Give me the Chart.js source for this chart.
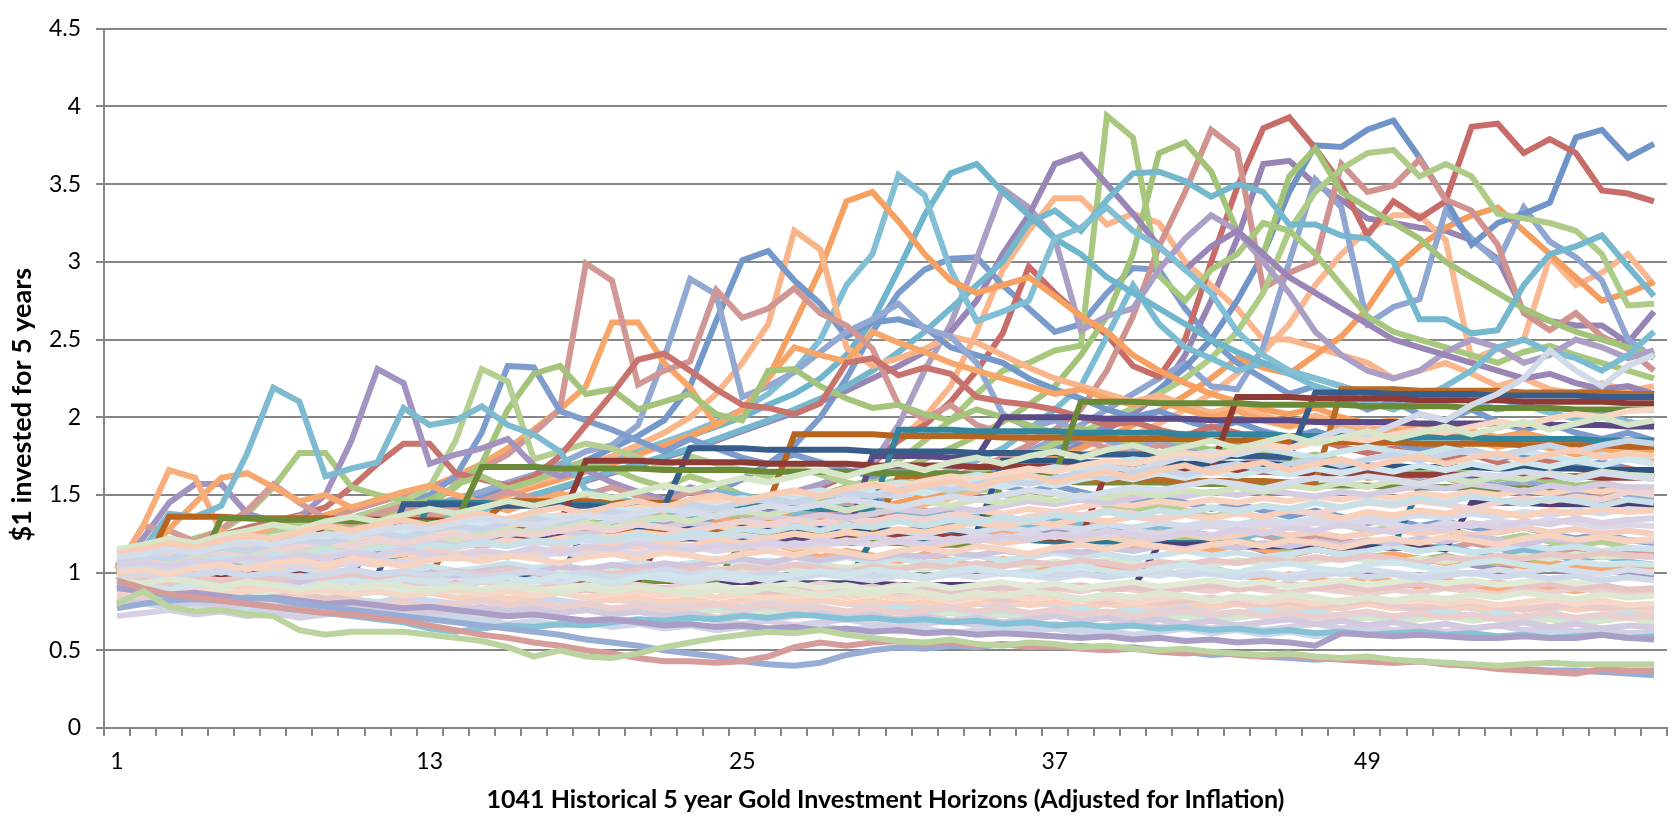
<!DOCTYPE html>
<html>
<head>
<meta charset="utf-8">
<script src="https://cdn.jsdelivr.net/npm/chart.js@4.4.0/dist/chart.umd.min.js"></script>
<style>
  body { margin: 0; background: #fff; }
</style>
</head>
<body>
<canvas id="goldChart" width="1674" height="819"></canvas>
<script>
// month of the 5 year horizon (1..60)
const months = [1,2,3,4,5,6,7,8,9,10,11,12,13,14,15,16,17,18,19,20,
  21,22,23,24,25,26,27,28,29,30,31,32,33,34,35,36,37,38,39,40,
  41,42,43,44,45,46,47,48,49,50,51,52,53,54,55,56,57,58,59,60];
const tickLabels = ['1', '13', '25', '37', '49'];
const yTicks = [0, 0.5, 1, 1.5, 2, 2.5, 3, 3.5, 4, 4.5];

// horizons that spike well above the pack
const peakSeries = [
  [1.05,1.15,1.38,1.36,1.43,1.77,2.19,2.10,1.62,1.67,
   1.71,2.06,1.95,1.98,2.07,1.95,1.89,1.78,1.53,1.48,
   1.45,1.40,1.43,1.52,1.50,1.46,1.38,1.42,1.47,1.44,
   1.40,1.36,1.41,1.38,1.33,1.30,1.35,1.32,1.28,1.25,
   1.30,1.27,1.24,1.21,1.26,1.22,1.18,1.15,1.20,1.17,
   1.14,1.18,1.13,1.10,1.15,1.12,1.08,1.11,1.07,1.05],
  [1.03,1.30,1.66,1.61,1.26,1.22,1.30,1.36,1.31,1.27,
   1.33,1.38,1.30,1.25,1.29,1.34,1.28,1.22,1.26,1.30,
   1.24,1.19,1.23,1.18,1.14,1.19,1.15,1.10,1.14,1.11,
   1.07,1.12,1.08,1.04,1.09,1.05,1.01,1.06,1.03,0.99,
   1.02,0.98,1.03,0.99,0.95,0.99,0.96,0.93,0.97,0.94,
   0.91,0.95,0.92,0.89,0.93,0.90,0.88,0.91,0.88,0.86],
  [1.00,1.10,1.28,1.45,1.61,1.64,1.55,1.46,1.50,1.42,
   1.47,1.52,1.56,1.50,1.45,1.40,1.46,1.51,1.47,1.42,
   1.38,1.44,1.40,1.36,1.32,1.37,1.33,1.29,1.34,1.30,
   1.26,1.30,1.27,1.23,1.27,1.24,1.20,1.24,1.21,1.17,
   1.21,1.18,1.14,1.18,1.15,1.11,1.15,1.12,1.09,1.12,
   1.09,1.06,1.10,1.07,1.04,1.07,1.04,1.01,1.04,1.02],
  [1.02,1.30,1.27,1.20,1.28,1.40,1.57,1.45,1.35,1.32,
   1.38,1.43,1.37,1.42,1.46,1.52,1.48,1.44,1.50,1.55,
   1.49,1.45,1.52,1.48,1.43,1.47,1.42,1.38,1.43,1.39,
   1.35,1.40,1.36,1.32,1.36,1.33,1.29,1.33,1.30,1.26,
   1.30,1.27,1.23,1.27,1.24,1.20,1.24,1.21,1.18,1.21,
   1.18,1.15,1.19,1.16,1.13,1.16,1.13,1.10,1.13,1.11],
  [1.04,1.22,1.45,1.57,1.57,1.38,1.33,1.36,1.50,1.85,
   2.31,2.22,1.70,1.76,1.80,1.86,1.69,1.62,1.66,1.58,
   1.52,1.47,1.55,1.50,1.44,1.40,1.47,1.42,1.37,1.34,
   1.39,1.35,1.30,1.33,1.28,1.24,1.29,1.25,1.21,1.18,
   1.22,1.18,1.15,1.19,1.14,1.11,1.15,1.12,1.08,1.10,
   1.06,1.09,1.05,1.02,1.06,1.03,1.00,1.03,0.99,0.97],
  [0.95,1.08,1.15,1.22,1.27,1.38,1.55,1.77,1.77,1.55,
   1.50,1.47,1.42,1.57,1.62,1.54,1.59,1.66,1.72,1.67,
   1.60,1.55,1.62,1.57,1.50,1.46,1.52,1.47,1.42,1.38,
   1.43,1.39,1.34,1.37,1.32,1.28,1.33,1.29,1.25,1.22,
   1.26,1.22,1.18,1.22,1.17,1.14,1.18,1.14,1.10,1.12,
   1.08,1.11,1.07,1.04,1.08,1.05,1.02,1.05,1.01,0.99],
  [1.00,1.07,1.14,1.19,1.24,1.29,1.33,1.37,1.42,1.55,
   1.70,1.83,1.83,1.64,1.60,1.56,1.62,1.75,1.95,2.15,
   2.37,2.41,2.30,2.18,2.08,2.06,2.02,2.09,2.35,2.38,
   2.27,2.32,2.28,2.13,2.10,2.08,2.05,2.00,1.95,1.97,
   1.92,1.88,1.94,1.90,1.85,1.82,1.86,1.81,1.77,1.80,
   1.75,1.72,1.76,1.71,1.68,1.72,1.67,1.64,1.67,1.62],
  [1.00,1.06,1.12,1.17,1.14,1.20,1.26,1.31,1.28,1.35,
   1.40,1.46,1.55,1.85,2.31,2.23,1.73,1.78,1.83,1.80,
   1.74,1.68,1.75,1.70,1.66,1.62,1.68,1.63,1.58,1.55,
   1.60,1.56,1.52,1.55,1.50,1.47,1.51,1.47,1.43,1.40,
   1.44,1.40,1.36,1.39,1.35,1.31,1.35,1.31,1.27,1.29,
   1.25,1.28,1.24,1.21,1.24,1.20,1.17,1.20,1.16,1.14],
  [0.98,1.04,1.10,1.15,1.19,1.16,1.22,1.27,1.25,1.31,
   1.36,1.42,1.47,1.55,1.70,2.05,2.28,2.33,2.15,2.18,
   2.05,2.10,2.15,2.02,1.98,2.30,2.31,2.20,2.12,2.06,
   2.08,2.02,1.98,2.05,2.00,1.95,1.90,1.93,1.88,1.84,
   1.88,1.83,1.79,1.82,1.77,1.73,1.76,1.72,1.68,1.70,
   1.66,1.69,1.64,1.60,1.63,1.59,1.56,1.58,1.54,1.52],
  [1.00,1.05,1.09,1.14,1.18,1.22,1.19,1.25,1.30,1.35,
   1.40,1.45,1.50,1.62,1.90,2.33,2.32,2.04,1.98,1.92,
   1.85,1.78,1.86,1.80,1.74,1.70,1.76,1.71,1.66,1.62,
   1.67,1.63,1.58,1.61,1.56,1.52,1.56,1.52,1.48,1.45,
   1.49,1.45,1.41,1.44,1.40,1.36,1.40,1.36,1.32,1.34,
   1.30,1.33,1.29,1.26,1.29,1.25,1.22,1.25,1.21,1.19],
  [1.02,1.08,1.12,1.18,1.22,1.27,1.30,1.35,1.33,1.40,
   1.45,1.50,1.55,1.60,1.67,1.76,1.90,2.05,2.99,2.88,
   2.21,2.30,2.36,2.82,2.64,2.70,2.83,2.67,2.59,2.44,
   2.08,1.99,2.08,1.95,1.90,1.85,1.92,1.86,1.80,1.76,
   1.82,1.77,1.72,1.76,1.70,1.66,1.70,1.65,1.61,1.63,
   1.58,1.61,1.56,1.52,1.55,1.50,1.47,1.49,1.45,1.43],
  [0.98,1.04,1.10,1.14,1.18,1.24,1.28,1.33,1.37,1.42,
   1.46,1.50,1.55,1.62,1.70,1.80,1.92,2.05,2.20,2.61,
   2.61,2.35,2.19,1.95,2.05,2.25,2.45,2.40,2.36,2.55,
   2.48,2.42,2.35,2.30,2.25,2.20,2.15,2.18,2.12,2.08,
   2.10,2.05,2.00,2.04,1.98,1.94,1.98,1.93,1.89,1.92,
   1.87,1.90,1.85,1.81,1.84,1.80,1.76,1.79,1.75,1.72],
  [1.00,1.04,1.08,1.12,1.10,1.16,1.20,1.24,1.22,1.28,
   1.33,1.38,1.42,1.48,1.52,1.58,1.63,1.70,1.78,1.82,
   1.95,2.38,2.89,2.79,2.13,2.20,2.29,2.42,2.55,2.63,
   2.73,2.57,2.52,2.35,2.02,1.93,1.98,1.90,1.85,1.80,
   1.86,1.80,1.75,1.79,1.73,1.69,1.73,1.68,1.64,1.66,
   1.62,1.65,1.60,1.56,1.59,1.55,1.51,1.54,1.50,1.48],
  [1.00,1.03,1.07,1.11,1.15,1.13,1.19,1.23,1.27,1.25,
   1.31,1.36,1.40,1.45,1.50,1.55,1.60,1.66,1.72,1.80,
   1.88,1.98,2.20,2.62,3.01,3.07,2.88,2.73,2.52,2.61,
   2.63,2.58,2.45,2.40,2.35,2.25,2.18,2.12,2.05,2.00,
   2.04,1.98,1.93,1.97,1.91,1.87,1.91,1.86,1.82,1.84,
   1.79,1.82,1.77,1.73,1.76,1.72,1.68,1.71,1.67,1.64],
  [1.00,1.04,1.07,1.11,1.15,1.19,1.17,1.22,1.26,1.30,
   1.28,1.34,1.38,1.43,1.48,1.53,1.58,1.63,1.69,1.75,
   1.82,1.90,2.00,2.15,2.35,2.60,3.20,3.08,2.45,2.33,
   2.38,2.44,2.52,2.48,2.40,2.32,2.25,2.20,2.15,2.10,
   2.14,2.08,2.03,2.07,2.01,1.97,2.01,1.96,1.92,1.94,
   1.89,1.92,1.87,1.83,1.86,1.82,1.78,1.81,1.77,1.74],
  [1.00,1.03,1.06,1.10,1.14,1.12,1.17,1.21,1.25,1.29,
   1.27,1.32,1.36,1.40,1.45,1.50,1.55,1.60,1.65,1.70,
   1.76,1.82,1.88,1.95,2.05,2.25,2.60,2.95,3.39,3.45,
   3.26,3.05,2.88,2.80,2.85,2.90,2.78,2.65,2.55,2.40,
   2.30,2.22,2.15,2.10,2.05,2.02,2.06,2.00,1.96,1.98,
   1.93,1.96,1.91,1.87,1.90,1.86,1.82,1.85,1.81,1.78],
  [1.00,1.03,1.06,1.10,1.08,1.13,1.17,1.21,1.25,1.23,
   1.28,1.32,1.36,1.41,1.46,1.51,1.56,1.61,1.66,1.72,
   1.78,1.84,1.90,1.97,2.05,2.15,2.30,2.50,2.85,3.05,
   3.56,3.43,2.95,2.62,2.68,2.75,3.15,3.22,3.35,3.20,
   3.10,2.95,2.80,2.55,2.40,2.30,2.25,2.20,2.15,2.18,
   2.12,2.15,2.10,2.05,2.08,2.03,1.99,2.02,1.97,1.94],
  [1.00,1.03,1.07,1.05,1.10,1.14,1.18,1.16,1.21,1.25,
   1.29,1.33,1.38,1.43,1.48,1.52,1.57,1.62,1.67,1.72,
   1.77,1.82,1.88,1.94,2.00,2.08,2.15,2.25,2.40,2.62,
   2.95,3.30,3.57,3.63,3.45,3.30,3.15,3.05,2.90,2.80,
   2.70,2.60,2.50,2.42,2.35,2.30,2.25,2.20,2.15,2.18,
   2.12,2.15,2.10,2.05,2.08,2.03,1.99,2.02,1.97,1.94],
  [1.00,1.02,1.05,1.08,1.06,1.10,1.14,1.18,1.15,1.20,
   1.24,1.28,1.32,1.36,1.40,1.45,1.50,1.55,1.60,1.65,
   1.70,1.75,1.80,1.86,1.92,1.98,2.05,2.12,2.20,2.30,
   2.42,2.55,2.70,2.85,3.00,3.25,3.33,3.20,3.40,3.57,
   3.58,3.52,3.42,3.50,3.45,3.24,3.24,3.17,3.15,3.00,
   2.63,2.63,2.54,2.56,2.85,3.05,3.10,3.17,2.97,2.78],
  [1.00,1.03,1.01,1.05,1.08,1.06,1.10,1.13,1.11,1.15,
   1.18,1.16,1.20,1.23,1.21,1.25,1.28,1.26,1.30,1.33,
   1.31,1.35,1.38,1.36,1.40,1.43,1.41,1.45,1.48,1.50,
   1.55,1.60,1.66,1.72,1.80,1.92,2.05,2.20,2.52,2.85,
   2.60,2.45,2.38,2.30,2.35,2.28,2.20,2.15,2.10,2.05,
   2.12,2.20,2.30,2.45,2.50,2.42,2.38,2.30,2.40,2.55],
  [1.00,1.03,1.06,1.04,1.08,1.12,1.15,1.13,1.18,1.22,
   1.25,1.29,1.33,1.37,1.41,1.45,1.50,1.54,1.59,1.64,
   1.69,1.74,1.79,1.85,1.91,1.97,2.03,2.10,2.17,2.25,
   2.33,2.42,2.55,2.75,3.05,3.30,3.63,3.69,3.50,3.31,
   3.10,2.95,3.10,3.20,3.05,2.90,2.80,2.70,2.60,2.50,
   2.45,2.40,2.35,2.30,2.25,2.28,2.22,2.18,2.20,2.15],
  [1.00,1.02,1.05,1.03,1.07,1.10,1.08,1.12,1.15,1.13,
   1.17,1.20,1.18,1.22,1.25,1.23,1.27,1.30,1.28,1.32,
   1.35,1.33,1.37,1.40,1.44,1.48,1.52,1.57,1.63,1.70,
   1.95,2.30,2.60,3.02,3.47,3.35,3.15,2.56,2.65,2.70,
   2.95,3.15,3.30,3.20,3.00,2.80,2.55,2.40,2.30,2.25,
   2.30,2.42,2.50,2.45,2.35,2.40,2.50,2.45,2.38,2.43],
  [1.00,1.02,1.05,1.08,1.06,1.10,1.13,1.11,1.15,1.18,
   1.16,1.20,1.23,1.21,1.25,1.28,1.26,1.30,1.33,1.31,
   1.35,1.38,1.36,1.40,1.43,1.41,1.45,1.49,1.54,1.60,
   1.72,1.85,1.98,2.15,2.30,2.35,2.43,2.46,3.94,3.80,
   2.91,2.75,2.95,3.05,3.25,3.20,3.05,2.85,2.65,2.55,
   2.50,2.45,2.40,2.35,2.42,2.46,2.40,2.35,2.30,2.25],
  [1.00,1.03,1.01,1.05,1.08,1.06,1.10,1.13,1.11,1.15,
   1.18,1.16,1.20,1.23,1.21,1.25,1.28,1.26,1.30,1.33,
   1.31,1.35,1.38,1.36,1.40,1.43,1.46,1.50,1.55,1.60,
   1.66,1.73,1.80,1.88,1.97,2.08,2.20,2.40,2.65,3.05,
   3.70,3.77,3.58,3.20,3.05,3.55,3.73,3.45,3.35,3.25,
   3.15,3.00,2.90,2.80,2.70,2.62,2.55,2.50,2.45,2.40],
  [1.00,1.02,1.04,1.03,1.06,1.09,1.07,1.11,1.14,1.12,
   1.16,1.19,1.17,1.21,1.24,1.22,1.26,1.29,1.27,1.31,
   1.34,1.32,1.36,1.39,1.37,1.41,1.44,1.42,1.46,1.49,
   1.52,1.56,1.60,1.65,1.70,1.76,1.83,1.90,1.98,2.06,
   2.15,2.25,2.38,2.55,2.80,3.20,3.45,3.60,3.70,3.72,
   3.55,3.63,3.55,3.31,3.28,3.25,3.20,3.05,2.72,2.73],
  [1.00,1.02,1.05,1.03,1.06,1.09,1.07,1.10,1.13,1.11,
   1.15,1.18,1.16,1.20,1.23,1.21,1.25,1.28,1.26,1.30,
   1.33,1.31,1.35,1.38,1.36,1.40,1.43,1.41,1.45,1.48,
   1.52,1.56,1.61,1.67,1.74,1.82,1.92,2.05,2.30,2.65,
   3.10,3.45,3.85,3.72,2.83,2.93,3.00,3.63,3.45,3.49,
   3.66,3.40,3.33,3.11,2.67,2.56,2.67,2.52,2.44,2.30],
  [1.00,1.03,1.01,1.04,1.07,1.05,1.08,1.11,1.09,1.12,
   1.15,1.13,1.17,1.20,1.18,1.22,1.25,1.23,1.27,1.30,
   1.28,1.32,1.35,1.38,1.42,1.46,1.50,1.55,1.62,1.70,
   1.85,1.95,2.10,2.30,2.54,2.97,2.80,2.65,2.53,2.33,
   2.26,2.50,3.00,3.48,3.86,3.93,3.73,3.50,3.17,3.39,
   3.28,3.39,3.87,3.89,3.70,3.79,3.70,3.46,3.44,3.39],
  [1.00,1.02,1.04,1.02,1.05,1.08,1.06,1.09,1.12,1.10,
   1.13,1.16,1.14,1.18,1.21,1.19,1.23,1.26,1.24,1.28,
   1.31,1.29,1.33,1.36,1.34,1.38,1.41,1.39,1.43,1.46,
   1.50,1.54,1.58,1.63,1.68,1.74,1.80,1.87,1.95,2.05,
   2.18,2.32,2.50,2.75,3.05,3.45,3.75,3.74,3.85,3.91,
   3.67,3.40,3.11,3.25,3.31,3.38,3.80,3.85,3.67,3.76],
  [1.00,1.03,1.01,1.04,1.07,1.05,1.08,1.11,1.09,1.13,
   1.16,1.14,1.18,1.21,1.19,1.23,1.26,1.24,1.28,1.31,
   1.35,1.40,1.46,1.52,1.60,1.70,1.82,2.00,2.25,2.55,
   2.80,2.95,3.02,3.03,2.85,2.70,2.55,2.60,2.80,2.96,
   2.95,2.70,2.50,2.35,2.25,2.15,2.20,2.12,2.05,2.10,
   2.02,1.98,2.05,1.97,1.92,1.96,1.90,1.86,1.90,1.85],
  [1.00,1.02,1.05,1.03,1.06,1.09,1.07,1.10,1.13,1.11,
   1.14,1.17,1.15,1.19,1.22,1.20,1.24,1.27,1.25,1.29,
   1.32,1.30,1.34,1.37,1.35,1.39,1.42,1.40,1.44,1.47,
   1.51,1.55,1.60,1.65,1.71,1.78,1.86,1.95,2.05,2.15,
   2.25,2.35,2.20,2.18,2.45,3.00,3.53,3.35,2.60,2.71,
   2.76,3.33,3.15,3.00,3.35,3.13,3.03,2.88,2.50,2.38],
  [1.00,1.02,1.04,1.03,1.06,1.08,1.07,1.10,1.12,1.11,
   1.14,1.17,1.15,1.18,1.21,1.19,1.22,1.25,1.23,1.26,
   1.29,1.27,1.30,1.33,1.31,1.34,1.37,1.35,1.38,1.41,
   1.45,1.49,1.53,1.58,1.63,1.68,1.74,1.80,1.87,1.95,
   2.04,2.14,2.25,2.38,2.32,2.28,2.40,2.52,2.70,2.95,
   3.10,3.22,3.30,3.35,3.20,3.05,2.90,2.75,2.80,2.87],
  [1.00,1.03,1.01,1.04,1.06,1.05,1.08,1.10,1.09,1.12,
   1.14,1.13,1.16,1.19,1.17,1.20,1.23,1.21,1.24,1.27,
   1.25,1.28,1.31,1.29,1.32,1.35,1.33,1.36,1.39,1.37,
   1.40,1.44,1.48,1.52,1.57,1.62,1.68,1.74,1.81,1.88,
   1.96,2.05,2.15,2.28,2.42,2.60,2.85,3.05,3.20,3.30,
   3.30,3.14,2.37,2.44,2.50,3.03,2.85,2.93,3.05,2.85],
  [1.00,1.02,1.05,1.03,1.06,1.09,1.07,1.10,1.13,1.11,
   1.14,1.17,1.15,1.18,1.21,1.19,1.23,1.26,1.24,1.28,
   1.31,1.29,1.33,1.36,1.40,1.45,1.50,1.56,1.63,1.72,
   1.85,2.00,2.20,2.55,2.95,3.20,3.41,3.41,3.24,3.31,
   3.25,3.00,2.85,2.70,2.50,2.50,2.45,2.40,2.35,2.25,
   2.30,2.35,2.28,2.20,2.25,2.18,2.15,2.22,2.17,2.20],
  [1.00,1.02,1.04,1.03,1.06,1.08,1.07,1.10,1.12,1.11,
   1.14,1.17,1.15,1.18,1.21,1.19,1.22,1.25,1.23,1.26,
   1.29,1.27,1.30,1.33,1.31,1.34,1.37,1.35,1.38,1.41,
   1.44,1.48,1.52,1.57,1.62,1.68,1.75,1.83,1.92,2.02,
   2.15,2.40,2.75,3.15,3.63,3.65,3.50,3.40,3.28,3.25,
   3.22,3.20,3.14,3.02,2.68,2.62,2.59,2.59,2.48,2.68]
];
const peakColors = ['#7EBBD1','#F8AD7D','#F7A870','#D39B98','#A393C0','#ABC882','#C9736F','#B5CF92',
  '#A5C47B','#7E9DCC','#D09794','#F7A66A','#92A9D3','#7598CA','#F9B58A','#F6A062','#82BFD4',
  '#6FB5CC','#75B8CE','#7CBCD2','#9985B6','#AC9FC5','#A8C87E','#A3C379','#AECB87','#D09390',
  '#C76C69','#7094C8','#7A9BCC','#8EA6D1','#F59D5E','#F9B892','#FAB58B','#9784B5'];

// horizons from the fixed price years: flat runs with jumps
const stepSeries = [
  [1.00,1.00,0.99,0.99,1.35,1.35,1.34,1.34,1.34,1.33,
   1.33,1.33,1.32,1.32,1.68,1.68,1.68,1.67,1.67,1.67,
   1.67,1.66,1.66,1.66,1.66,1.65,1.65,1.65,1.65,1.64,
   1.64,1.64,1.64,1.63,1.63,1.63,1.63,2.10,2.10,2.10,
   2.09,2.09,2.09,2.09,2.08,2.08,2.08,2.08,2.07,2.07,
   2.07,2.07,2.06,2.06,2.06,2.06,2.05,2.05,2.05,2.05],
  [1.00,1.00,1.00,0.99,0.99,0.99,0.99,0.98,1.34,1.34,
   1.34,1.33,1.33,1.33,1.33,1.32,1.32,1.32,1.72,1.72,
   1.72,1.71,1.71,1.71,1.71,1.70,1.70,1.70,1.70,1.69,
   1.69,1.69,1.69,1.68,1.68,1.68,1.68,1.67,1.67,1.67,
   1.67,1.66,1.66,2.13,2.13,2.13,2.12,2.12,2.12,2.12,
   2.11,2.11,2.11,2.11,2.10,2.10,2.10,2.10,2.09,2.09],
  [1.00,1.00,1.00,1.00,0.99,0.99,0.99,0.99,0.98,0.98,
   0.98,1.44,1.44,1.44,1.43,1.43,1.43,1.43,1.43,1.42,
   1.42,1.42,1.80,1.80,1.80,1.79,1.79,1.79,1.79,1.78,
   1.78,1.78,1.78,1.77,1.77,1.77,1.77,1.76,1.76,1.76,
   1.76,1.75,1.75,1.75,1.75,1.74,2.16,2.16,2.16,2.15,
   2.15,2.15,2.15,2.14,2.14,2.14,2.14,2.13,2.13,2.13],
  [1.00,1.00,1.00,0.99,0.99,0.99,0.99,1.10,1.10,1.10,
   1.09,1.09,1.45,1.45,1.45,1.44,1.44,1.44,1.44,1.43,
   1.43,1.43,1.43,1.42,1.42,1.42,1.42,1.41,1.41,1.41,
   1.92,1.92,1.92,1.91,1.91,1.91,1.91,1.90,1.90,1.90,
   1.90,1.89,1.89,1.89,1.89,1.88,1.88,1.88,1.88,1.87,
   1.87,1.87,1.87,1.86,1.86,1.86,1.86,1.85,1.85,1.85],
  [1.00,1.02,1.36,1.36,1.36,1.35,1.35,1.35,1.35,1.34,
   1.34,1.34,1.34,1.33,1.33,1.46,1.46,1.46,1.46,1.45,
   1.45,1.45,1.45,1.44,1.44,1.44,1.89,1.89,1.89,1.89,
   1.88,1.88,1.88,1.88,1.87,1.87,1.87,1.87,1.86,1.86,
   1.86,1.86,1.85,1.85,1.85,1.85,1.84,1.84,1.84,1.84,
   1.83,1.83,1.83,1.83,1.82,1.82,1.82,1.82,1.81,1.81],
  [1.00,1.00,0.99,0.99,0.99,0.99,0.98,0.98,0.98,0.98,
   1.25,1.25,1.25,1.24,1.24,1.24,1.24,1.23,1.23,1.23,
   1.23,1.22,1.22,1.22,1.22,1.21,1.21,1.21,1.21,1.75,
   1.75,1.75,1.74,1.74,2.00,2.00,2.00,2.00,1.99,1.99,
   1.99,1.99,1.98,1.98,1.98,1.98,1.97,1.97,1.97,1.97,
   1.96,1.96,1.96,1.96,1.95,1.95,1.95,1.95,1.94,1.94],
  [1.00,1.00,1.00,0.99,0.99,0.99,0.99,0.98,0.98,0.98,
   0.98,0.97,0.97,1.28,1.28,1.28,1.27,1.27,1.27,1.27,
   1.26,1.26,1.26,1.26,1.25,1.25,1.25,1.25,1.24,1.24,
   1.62,1.62,1.62,1.61,1.61,1.61,1.61,1.60,1.60,1.60,
   1.60,1.59,1.59,1.59,1.59,1.58,1.58,2.18,2.18,2.18,
   2.17,2.17,2.17,2.17,2.16,2.16,2.16,2.16,2.15,2.15],
  [1.00,0.99,0.99,0.99,0.99,0.98,0.98,0.98,0.98,0.97,
   0.97,0.97,0.97,0.96,0.96,0.96,0.96,0.95,1.30,1.30,
   1.30,1.29,1.29,1.29,1.29,1.28,1.28,1.28,1.28,1.27,
   1.27,1.27,1.27,1.26,1.72,1.72,1.72,1.71,1.71,1.71,
   1.71,1.70,1.70,1.70,1.70,1.69,1.69,1.69,1.69,1.68,
   1.68,1.68,1.68,1.67,1.67,1.67,1.67,1.66,1.66,1.66],
  [1.00,1.00,0.99,0.99,0.99,0.99,0.98,0.98,0.98,0.98,
   0.97,0.97,0.97,0.97,0.96,0.96,0.96,0.96,0.95,0.95,
   0.95,1.26,1.26,1.26,1.25,1.25,1.25,1.25,1.24,1.24,
   1.24,1.24,1.23,1.23,1.23,1.23,1.22,1.22,1.66,1.66,
   1.66,1.65,1.65,1.65,1.65,1.64,1.64,1.64,1.64,1.63,
   1.63,1.63,1.63,1.62,1.62,1.62,1.62,1.61,1.61,1.61],
  [1.00,1.00,1.00,0.99,0.99,0.99,0.99,0.98,0.98,0.98,
   0.98,0.97,0.97,0.97,0.97,0.96,0.96,0.96,0.96,0.95,
   0.95,0.95,0.95,0.94,1.20,1.20,1.20,1.19,1.19,1.19,
   1.19,1.18,1.18,1.18,1.59,1.59,1.59,1.58,1.58,1.58,
   1.58,1.57,1.57,1.57,1.57,1.56,1.56,1.56,1.56,1.55,
   1.55,1.55,1.55,1.54,1.54,1.54,1.54,1.53,1.53,1.53],
  [1.00,1.00,0.99,0.99,0.99,0.99,0.98,0.98,0.98,0.98,
   0.97,0.97,0.97,0.97,0.96,0.96,0.96,0.96,0.95,0.95,
   0.95,0.95,0.94,0.94,0.94,0.94,0.93,0.93,0.93,0.93,
   0.92,0.92,0.92,0.92,0.91,0.91,0.91,0.91,0.90,0.90,
   1.18,1.18,1.18,1.17,1.17,1.17,1.17,1.16,1.16,1.16,
   1.16,1.15,1.45,1.45,1.45,1.44,1.44,1.44,1.44,1.43],
  [1.00,1.00,0.99,0.99,0.99,0.99,0.98,0.98,0.98,0.98,
   0.97,0.97,0.97,0.97,0.96,0.96,0.96,0.96,0.95,0.95,
   0.95,0.95,0.94,0.94,0.94,0.94,0.93,0.93,0.93,1.22,
   1.22,1.22,1.21,1.21,1.21,1.21,1.20,1.20,1.20,1.20,
   1.19,1.19,1.19,1.19,1.18,1.18,1.18,1.18,1.17,1.17,
   1.55,1.55,1.55,1.54,1.54,1.54,1.54,1.53,1.53,1.53]
];
const stepColors = ['#6B8A38','#8E3A37','#385D8A','#31859C','#B7651E','#5C4A86',
  '#B96A25','#2F5482','#943F3C','#718F3D','#4F3D73','#2A7A8F'];

// the crowded pack of ordinary horizons
const bandSeries = [
  [1.10,1.12,1.15,1.13,1.17,1.20,1.18,1.22,1.25,1.23,
   1.27,1.30,1.28,1.32,1.35,1.33,1.30,1.34,1.37,1.35,
   1.38,1.41,1.39,1.36,1.40,1.43,1.41,1.44,1.47,1.45,
   1.42,1.46,1.49,1.47,1.50,1.53,1.51,1.48,1.52,1.55,
   1.53,1.56,1.59,1.57,1.54,1.58,1.61,1.59,1.62,1.60,
   1.57,1.61,1.64,1.62,1.65,1.63,1.60,1.64,1.62,1.60],
  [1.00,1.02,0.99,1.03,1.05,1.02,1.06,1.08,1.05,1.09,
   1.07,1.04,1.08,1.10,1.07,1.11,1.09,1.06,1.10,1.12,
   1.09,1.13,1.11,1.08,1.12,1.14,1.11,1.15,1.13,1.10,
   1.14,1.16,1.13,1.17,1.15,1.12,1.16,1.18,1.15,1.19,
   1.17,1.14,1.18,1.20,1.17,1.21,1.19,1.16,1.20,1.22,
   1.19,1.23,1.21,1.18,1.22,1.24,1.21,1.23,1.20,1.22],
  [0.95,0.93,0.96,0.94,0.91,0.94,0.92,0.89,0.92,0.90,
   0.93,0.91,0.88,0.91,0.89,0.92,0.90,0.87,0.90,0.88,
   0.91,0.89,0.86,0.89,0.87,0.90,0.88,0.85,0.88,0.86,
   0.89,0.87,0.84,0.87,0.85,0.88,0.86,0.83,0.86,0.84,
   0.87,0.85,0.82,0.85,0.83,0.86,0.84,0.81,0.84,0.82,
   0.85,0.83,0.86,0.84,0.87,0.85,0.83,0.86,0.84,0.85],
  [1.05,1.07,1.04,1.08,1.06,1.10,1.08,1.12,1.09,1.13,
   1.11,1.15,1.12,1.10,1.14,1.12,1.16,1.13,1.17,1.15,
   1.19,1.16,1.14,1.18,1.16,1.20,1.17,1.21,1.19,1.23,
   1.20,1.18,1.22,1.20,1.24,1.21,1.25,1.23,1.27,1.24,
   1.22,1.26,1.24,1.28,1.25,1.29,1.27,1.31,1.28,1.26,
   1.30,1.28,1.32,1.29,1.33,1.31,1.35,1.32,1.34,1.35],
  [0.90,0.92,0.89,0.93,0.91,0.94,0.92,0.90,0.93,0.95,
   0.93,0.96,0.94,0.91,0.95,0.97,0.94,0.98,0.96,0.93,
   0.97,0.99,0.96,1.00,0.98,0.95,0.99,1.01,0.98,1.02,
   1.00,0.97,1.01,1.03,1.00,0.98,1.02,1.04,1.01,0.99,
   1.03,1.05,1.02,1.00,1.04,1.06,1.03,1.01,1.05,1.07,
   1.04,1.02,1.06,1.08,1.05,1.03,1.07,1.05,1.06,1.05],
  [0.85,0.84,0.86,0.83,0.82,0.84,0.81,0.83,0.80,0.82,
   0.79,0.81,0.78,0.80,0.82,0.79,0.81,0.78,0.80,0.77,
   0.79,0.76,0.78,0.80,0.77,0.79,0.76,0.78,0.75,0.77,
   0.74,0.76,0.78,0.75,0.77,0.74,0.76,0.73,0.75,0.72,
   0.74,0.76,0.73,0.75,0.72,0.74,0.71,0.73,0.75,0.72,
   0.74,0.71,0.73,0.70,0.72,0.74,0.71,0.73,0.71,0.72],
  [1.12,1.15,1.19,1.16,1.21,1.24,1.22,1.26,1.30,1.27,
   1.31,1.34,1.30,1.35,1.38,1.34,1.39,1.42,1.38,1.43,
   1.46,1.42,1.47,1.50,1.46,1.50,1.53,1.49,1.54,1.57,
   1.52,1.56,1.59,1.55,1.60,1.63,1.58,1.62,1.65,1.61,
   1.66,1.69,1.64,1.68,1.71,1.66,1.70,1.73,1.68,1.72,
   1.75,1.70,1.74,1.77,1.72,1.76,1.79,1.74,1.77,1.75],
  [0.98,1.00,0.97,0.99,1.01,0.98,1.00,0.97,0.99,1.02,
   0.99,1.01,0.98,1.00,0.97,0.99,1.01,0.98,1.00,0.97,
   0.99,1.02,0.99,1.01,0.98,1.00,0.97,0.99,1.01,0.98,
   1.00,0.97,0.99,1.02,0.99,1.01,0.98,1.00,0.97,0.99,
   1.01,0.98,1.00,0.97,0.99,0.96,0.98,1.00,0.97,0.99,
   0.96,0.98,1.00,0.97,0.99,0.96,0.98,0.95,0.97,0.95],
  [1.15,1.18,1.22,1.19,1.24,1.27,1.31,1.28,1.33,1.36,
   1.33,1.37,1.41,1.38,1.42,1.46,1.43,1.47,1.51,1.48,
   1.52,1.56,1.53,1.57,1.61,1.58,1.62,1.66,1.62,1.67,
   1.70,1.66,1.71,1.74,1.70,1.75,1.78,1.74,1.79,1.82,
   1.77,1.81,1.85,1.80,1.84,1.88,1.83,1.87,1.91,1.86,
   1.90,1.94,1.89,1.93,1.97,1.92,1.96,2.00,1.95,1.98],
  [0.80,0.82,0.79,0.81,0.78,0.80,0.77,0.79,0.76,0.78,
   0.75,0.77,0.74,0.76,0.78,0.75,0.77,0.74,0.76,0.73,
   0.75,0.72,0.74,0.71,0.73,0.70,0.72,0.74,0.71,0.73,
   0.70,0.72,0.69,0.71,0.68,0.70,0.72,0.69,0.71,0.68,
   0.70,0.67,0.69,0.66,0.68,0.70,0.67,0.69,0.66,0.68,
   0.65,0.67,0.64,0.66,0.68,0.65,0.67,0.64,0.66,0.65],
  [1.02,1.05,1.03,1.07,1.10,1.08,1.12,1.10,1.14,1.12,
   1.16,1.14,1.18,1.16,1.20,1.17,1.21,1.19,1.23,1.21,
   1.25,1.22,1.26,1.24,1.28,1.26,1.30,1.27,1.31,1.29,
   1.33,1.30,1.34,1.32,1.36,1.33,1.37,1.35,1.39,1.36,
   1.40,1.38,1.42,1.39,1.43,1.41,1.45,1.42,1.46,1.44,
   1.48,1.45,1.49,1.47,1.44,1.48,1.46,1.43,1.47,1.45],
  [0.92,0.95,0.93,0.96,0.94,0.97,0.95,0.98,0.96,0.99,
   0.97,1.00,0.98,1.01,0.99,1.02,1.00,0.97,1.01,0.99,
   1.02,1.00,1.03,1.01,1.04,1.02,1.05,1.03,1.00,1.04,
   1.02,1.05,1.03,1.06,1.04,1.07,1.05,1.08,1.06,1.03,
   1.07,1.05,1.08,1.06,1.09,1.07,1.10,1.08,1.11,1.09,
   1.06,1.10,1.08,1.11,1.09,1.12,1.10,1.13,1.11,1.10],
  [0.88,0.90,0.87,0.89,0.86,0.88,0.90,0.87,0.89,0.86,
   0.88,0.85,0.87,0.89,0.86,0.88,0.85,0.87,0.84,0.86,
   0.88,0.85,0.87,0.84,0.86,0.83,0.85,0.87,0.84,0.86,
   0.83,0.85,0.82,0.84,0.86,0.83,0.85,0.82,0.84,0.81,
   0.83,0.85,0.82,0.84,0.81,0.83,0.80,0.82,0.84,0.81,
   0.83,0.80,0.82,0.79,0.81,0.83,0.80,0.82,0.79,0.80],
  [1.08,1.11,1.09,1.13,1.16,1.14,1.18,1.21,1.19,1.23,
   1.26,1.23,1.27,1.30,1.28,1.32,1.35,1.32,1.36,1.39,
   1.37,1.41,1.44,1.41,1.45,1.48,1.45,1.49,1.52,1.49,
   1.53,1.56,1.53,1.57,1.60,1.57,1.61,1.64,1.60,1.64,
   1.67,1.63,1.67,1.70,1.66,1.70,1.73,1.69,1.73,1.76,
   1.72,1.76,1.79,1.75,1.79,1.82,1.78,1.82,1.85,1.83],
  [0.86,0.88,0.85,0.87,0.89,0.86,0.88,0.90,0.87,0.89,
   0.91,0.88,0.90,0.87,0.89,0.91,0.88,0.90,0.92,0.89,
   0.91,0.88,0.90,0.92,0.89,0.91,0.93,0.90,0.92,0.89,
   0.91,0.93,0.90,0.92,0.94,0.91,0.93,0.90,0.92,0.94,
   0.91,0.93,0.95,0.92,0.94,0.91,0.93,0.95,0.92,0.94,
   0.96,0.93,0.95,0.92,0.94,0.96,0.93,0.95,0.97,0.95],
  [1.00,0.98,1.01,1.03,1.00,1.04,1.06,1.03,1.07,1.05,
   1.08,1.06,1.09,1.11,1.08,1.12,1.10,1.13,1.11,1.14,
   1.12,1.15,1.17,1.14,1.18,1.16,1.19,1.17,1.20,1.18,
   1.21,1.23,1.20,1.24,1.22,1.25,1.23,1.26,1.24,1.27,
   1.25,1.28,1.30,1.27,1.31,1.29,1.32,1.30,1.33,1.31,
   1.28,1.32,1.30,1.33,1.31,1.34,1.32,1.29,1.31,1.30],
  [0.78,0.80,0.82,0.79,0.81,0.78,0.80,0.77,0.79,0.81,
   0.78,0.80,0.77,0.79,0.76,0.78,0.80,0.77,0.79,0.76,
   0.78,0.75,0.77,0.79,0.76,0.78,0.75,0.77,0.74,0.76,
   0.78,0.75,0.77,0.74,0.76,0.73,0.75,0.77,0.74,0.76,
   0.73,0.75,0.72,0.74,0.76,0.73,0.75,0.72,0.74,0.71,
   0.73,0.75,0.72,0.74,0.71,0.73,0.70,0.72,0.74,0.71],
  [1.10,1.08,1.12,1.15,1.12,1.16,1.14,1.17,1.20,1.17,
   1.21,1.19,1.22,1.25,1.22,1.26,1.24,1.27,1.30,1.27,
   1.31,1.29,1.26,1.30,1.33,1.31,1.34,1.32,1.29,1.33,
   1.36,1.34,1.37,1.35,1.32,1.36,1.39,1.37,1.40,1.38,
   1.35,1.39,1.42,1.40,1.43,1.41,1.38,1.42,1.45,1.43,
   1.46,1.44,1.41,1.45,1.48,1.46,1.49,1.47,1.52,1.50],
  [0.95,0.97,1.00,0.98,1.01,1.04,1.02,1.05,1.03,1.07,
   1.05,1.08,1.11,1.09,1.12,1.10,1.14,1.12,1.15,1.18,
   1.16,1.19,1.17,1.21,1.19,1.22,1.25,1.23,1.26,1.24,
   1.28,1.26,1.29,1.32,1.30,1.33,1.31,1.35,1.33,1.36,
   1.34,1.37,1.35,1.38,1.36,1.40,1.38,1.35,1.39,1.37,
   1.40,1.38,1.41,1.39,1.36,1.40,1.38,1.41,1.39,1.40],
  [0.82,0.80,0.78,0.80,0.77,0.75,0.77,0.74,0.76,0.73,
   0.71,0.73,0.70,0.72,0.69,0.67,0.69,0.66,0.68,0.65,
   0.67,0.64,0.66,0.63,0.65,0.62,0.64,0.66,0.63,0.65,
   0.62,0.64,0.61,0.63,0.65,0.62,0.64,0.61,0.63,0.60,
   0.62,0.64,0.61,0.63,0.60,0.62,0.59,0.61,0.63,0.60,
   0.62,0.59,0.61,0.58,0.60,0.62,0.59,0.61,0.58,0.60],
  [1.05,1.03,1.07,1.10,1.08,1.12,1.15,1.12,1.16,1.19,
   1.17,1.21,1.24,1.21,1.25,1.28,1.25,1.29,1.32,1.29,
   1.33,1.36,1.33,1.37,1.40,1.37,1.41,1.44,1.40,1.44,
   1.42,1.46,1.43,1.47,1.45,1.49,1.46,1.50,1.48,1.52,
   1.49,1.53,1.51,1.55,1.52,1.56,1.54,1.58,1.55,1.59,
   1.57,1.61,1.58,1.62,1.60,1.64,1.61,1.65,1.63,1.62],
  [0.90,0.93,0.91,0.94,0.92,0.95,0.97,0.94,0.98,0.96,
   0.99,0.97,1.00,0.98,1.01,1.03,1.00,1.04,1.02,1.05,
   1.03,1.06,1.04,1.07,1.09,1.06,1.10,1.08,1.11,1.09,
   1.12,1.10,1.13,1.11,1.14,1.12,1.15,1.13,1.16,1.14,
   1.17,1.15,1.18,1.16,1.19,1.17,1.20,1.18,1.21,1.19,
   1.22,1.20,1.23,1.21,1.18,1.22,1.20,1.23,1.21,1.20],
  [1.13,1.16,1.14,1.18,1.21,1.19,1.23,1.26,1.23,1.27,
   1.30,1.27,1.31,1.34,1.31,1.35,1.38,1.35,1.39,1.42,
   1.39,1.42,1.45,1.42,1.46,1.49,1.46,1.50,1.53,1.50,
   1.54,1.51,1.55,1.58,1.55,1.59,1.56,1.60,1.63,1.60,
   1.64,1.61,1.65,1.62,1.66,1.63,1.67,1.64,1.68,1.65,
   1.69,1.66,1.70,1.67,1.71,1.68,1.72,1.69,1.73,1.70],
  [0.83,0.85,0.87,0.84,0.86,0.88,0.85,0.87,0.84,0.86,
   0.88,0.85,0.87,0.89,0.86,0.88,0.85,0.87,0.89,0.86,
   0.88,0.90,0.87,0.89,0.86,0.88,0.90,0.87,0.89,0.91,
   0.88,0.90,0.87,0.89,0.91,0.88,0.90,0.92,0.89,0.91,
   0.88,0.90,0.92,0.89,0.91,0.93,0.90,0.92,0.89,0.91,
   0.93,0.90,0.92,0.94,0.91,0.93,0.90,0.92,0.89,0.90],
  [1.03,1.05,1.08,1.06,1.09,1.07,1.10,1.08,1.11,1.13,
   1.10,1.12,1.15,1.12,1.14,1.11,1.13,1.16,1.13,1.15,
   1.18,1.15,1.17,1.14,1.16,1.19,1.16,1.18,1.21,1.18,
   1.20,1.17,1.19,1.22,1.19,1.21,1.24,1.21,1.23,1.20,
   1.22,1.25,1.22,1.24,1.27,1.24,1.26,1.23,1.25,1.28,
   1.25,1.27,1.24,1.26,1.29,1.26,1.28,1.25,1.27,1.25],
  [0.93,0.91,0.94,0.92,0.95,0.93,0.96,0.94,0.92,0.95,
   0.93,0.96,0.94,0.97,0.95,0.93,0.96,0.94,0.97,0.95,
   0.98,0.96,0.94,0.97,0.95,0.98,0.96,0.99,0.97,0.95,
   0.98,0.96,0.99,0.97,1.00,0.98,0.96,0.99,0.97,1.00,
   0.98,1.01,0.99,0.97,1.00,0.98,1.01,0.99,1.02,1.00,
   0.98,1.01,0.99,1.02,1.00,1.03,1.01,0.99,1.02,1.00],
  [0.88,0.85,0.83,0.80,0.82,0.79,0.77,0.79,0.76,0.78,
   0.75,0.77,0.74,0.76,0.73,0.75,0.77,0.74,0.76,0.73,
   0.75,0.72,0.74,0.76,0.73,0.75,0.72,0.74,0.71,0.73,
   0.75,0.72,0.74,0.71,0.73,0.70,0.72,0.74,0.71,0.73,
   0.70,0.72,0.69,0.71,0.73,0.70,0.72,0.69,0.71,0.68,
   0.70,0.72,0.69,0.71,0.68,0.70,0.67,0.69,0.71,0.68],
  [1.07,1.09,1.12,1.10,1.13,1.16,1.14,1.17,1.15,1.18,
   1.21,1.19,1.22,1.20,1.23,1.26,1.24,1.27,1.25,1.28,
   1.31,1.29,1.32,1.30,1.33,1.36,1.34,1.37,1.35,1.38,
   1.41,1.39,1.42,1.40,1.43,1.46,1.44,1.47,1.45,1.48,
   1.51,1.49,1.52,1.50,1.53,1.51,1.49,1.52,1.50,1.53,
   1.56,1.54,1.57,1.55,1.52,1.56,1.54,1.57,1.55,1.55],
  [0.97,0.99,0.96,0.98,1.01,0.98,1.00,1.03,1.00,1.02,
   0.99,1.01,1.04,1.01,1.03,1.06,1.03,1.05,1.02,1.04,
   1.07,1.04,1.06,1.09,1.06,1.08,1.05,1.07,1.10,1.07,
   1.09,1.06,1.08,1.11,1.08,1.10,1.13,1.10,1.12,1.09,
   1.11,1.14,1.11,1.13,1.10,1.12,1.15,1.12,1.14,1.17,
   1.14,1.16,1.13,1.15,1.18,1.15,1.17,1.14,1.16,1.15],
  [1.00,0.98,1.00,0.97,0.95,0.97,0.94,0.96,0.93,0.95,
   0.92,0.94,0.91,0.93,0.95,0.92,0.90,0.92,0.89,0.91,
   0.88,0.90,0.87,0.89,0.86,0.88,0.85,0.87,0.89,0.86,
   0.84,0.86,0.83,0.85,0.82,0.84,0.86,0.83,0.81,0.83,
   0.80,0.82,0.84,0.81,0.79,0.81,0.78,0.80,0.82,0.79,
   0.77,0.79,0.81,0.78,0.76,0.78,0.80,0.77,0.79,0.78],
  [1.05,1.08,1.12,1.10,1.14,1.17,1.15,1.19,1.22,1.20,
   1.24,1.27,1.25,1.29,1.32,1.30,1.34,1.37,1.35,1.39,
   1.42,1.40,1.44,1.47,1.45,1.49,1.52,1.50,1.54,1.57,
   1.55,1.59,1.62,1.60,1.64,1.67,1.65,1.69,1.72,1.70,
   1.74,1.77,1.75,1.79,1.82,1.80,1.84,1.87,1.85,1.89,
   1.92,1.90,1.94,1.97,1.95,1.99,2.02,2.00,2.04,2.05],
  [1.00,1.03,1.06,1.04,1.08,1.11,1.09,1.13,1.16,1.14,
   1.18,1.21,1.19,1.23,1.26,1.24,1.28,1.31,1.29,1.33,
   1.36,1.34,1.38,1.41,1.39,1.43,1.46,1.44,1.48,1.51,
   1.49,1.53,1.56,1.54,1.58,1.62,1.60,1.64,1.68,1.66,
   1.70,1.75,1.72,1.78,1.83,1.80,1.86,1.92,1.88,1.95,
   2.02,1.98,2.08,2.15,2.25,2.43,2.30,2.20,2.33,2.40],
  [0.95,0.93,0.91,0.93,0.90,0.92,0.89,0.87,0.89,0.86,
   0.88,0.85,0.87,0.84,0.86,0.83,0.85,0.87,0.84,0.82,
   0.84,0.81,0.83,0.80,0.82,0.84,0.81,0.83,0.80,0.82,
   0.79,0.81,0.78,0.80,0.82,0.79,0.81,0.78,0.80,0.77,
   0.79,0.81,0.78,0.80,0.77,0.79,0.76,0.78,0.80,0.77,
   0.79,0.76,0.78,0.75,0.77,0.79,0.76,0.78,0.75,0.75],
  [1.12,1.10,1.13,1.11,1.14,1.12,1.15,1.13,1.16,1.14,
   1.17,1.15,1.18,1.16,1.19,1.17,1.20,1.18,1.21,1.19,
   1.22,1.20,1.23,1.21,1.24,1.22,1.25,1.23,1.26,1.24,
   1.27,1.25,1.28,1.26,1.29,1.27,1.30,1.28,1.31,1.29,
   1.32,1.30,1.33,1.31,1.34,1.32,1.35,1.33,1.36,1.34,
   1.37,1.35,1.38,1.36,1.39,1.37,1.40,1.38,1.41,1.40],
  [0.88,0.90,0.92,0.90,0.93,0.91,0.94,0.96,0.94,0.97,
   0.95,0.98,0.96,0.99,1.01,0.99,1.02,1.00,1.03,1.01,
   1.04,1.02,1.00,1.03,1.01,1.04,1.02,1.05,1.03,1.06,
   1.04,1.02,1.05,1.03,1.06,1.04,1.07,1.05,1.08,1.06,
   1.04,1.07,1.05,1.08,1.06,1.09,1.07,1.10,1.08,1.06,
   1.09,1.07,1.10,1.08,1.11,1.09,1.12,1.10,1.11,1.10],
  [0.72,0.74,0.76,0.73,0.75,0.72,0.74,0.71,0.73,0.75,
   0.72,0.74,0.71,0.73,0.70,0.72,0.74,0.71,0.69,0.71,
   0.68,0.70,0.72,0.69,0.67,0.69,0.66,0.68,0.70,0.67,
   0.65,0.67,0.69,0.66,0.68,0.65,0.67,0.64,0.66,0.68,
   0.65,0.67,0.64,0.66,0.63,0.65,0.67,0.64,0.66,0.63,
   0.65,0.62,0.64,0.66,0.63,0.65,0.62,0.64,0.61,0.62],
  [1.05,1.07,1.10,1.13,1.11,1.15,1.18,1.16,1.20,1.23,
   1.21,1.25,1.28,1.26,1.30,1.33,1.31,1.35,1.38,1.36,
   1.40,1.43,1.41,1.45,1.48,1.46,1.50,1.53,1.51,1.55,
   1.58,1.56,1.60,1.63,1.61,1.65,1.68,1.66,1.70,1.73,
   1.71,1.75,1.78,1.76,1.80,1.77,1.74,1.78,1.81,1.78,
   1.76,1.80,1.77,1.74,1.78,1.75,1.72,1.76,1.73,1.75],
  [0.97,0.95,0.98,0.96,0.94,0.97,0.95,0.93,0.96,0.94,
   0.92,0.95,0.93,0.91,0.94,0.92,0.95,0.93,0.91,0.94,
   0.92,0.90,0.93,0.91,0.89,0.92,0.90,0.93,0.91,0.89,
   0.92,0.90,0.88,0.91,0.89,0.92,0.90,0.88,0.91,0.89,
   0.87,0.90,0.88,0.91,0.89,0.87,0.90,0.88,0.86,0.89,
   0.87,0.90,0.88,0.86,0.89,0.87,0.90,0.88,0.86,0.88],
  [1.02,1.04,1.07,1.05,1.08,1.11,1.09,1.12,1.15,1.13,
   1.16,1.14,1.17,1.20,1.18,1.21,1.19,1.22,1.25,1.23,
   1.26,1.24,1.27,1.30,1.28,1.31,1.29,1.32,1.35,1.33,
   1.36,1.34,1.37,1.40,1.38,1.41,1.39,1.42,1.45,1.43,
   1.46,1.44,1.47,1.45,1.48,1.46,1.49,1.47,1.50,1.48,
   1.51,1.49,1.52,1.50,1.53,1.51,1.54,1.52,1.55,1.52],
  [0.86,0.84,0.87,0.85,0.83,0.86,0.84,0.82,0.85,0.83,
   0.81,0.84,0.82,0.80,0.83,0.81,0.84,0.82,0.80,0.83,
   0.81,0.79,0.82,0.80,0.78,0.81,0.79,0.82,0.80,0.78,
   0.81,0.79,0.77,0.80,0.78,0.81,0.79,0.77,0.80,0.78,
   0.76,0.79,0.77,0.80,0.78,0.76,0.79,0.77,0.80,0.78,
   0.76,0.79,0.77,0.75,0.78,0.76,0.79,0.77,0.75,0.78]
];
const bandColors = ['#D5DDEB','#F7D3C2','#DDE7D1','#D9D1E3','#CFE4EB','#EBCFCE','#F8CDB6','#D0D9EA',
  '#D7E5C8','#D3CAE0','#C8E0E8','#E8C8C7','#F6D8C9','#C8D4E8','#E0EAD6','#DDD6E7',
  '#C6DFE8','#EDD3D2','#F9D0BA','#CCD6EA','#D2E2C0','#CFC5DE','#D1E6EC','#E6C5C4',
  '#F5CFBD','#D6DEEC','#D8E6CC','#D5CCE2','#CBE2EA','#EACBCA','#F8D6C4','#D2DAE8',
  '#F7D0BE','#D3DCEB','#DAE6CD','#D6CEE2','#CCE3EA','#ECD0CF','#F9D3BF','#CED8E9'];

// the worst horizons at the bottom
const lowSeries = [
  [0.80,0.88,0.78,0.75,0.76,0.73,0.72,0.63,0.60,0.62,
   0.62,0.62,0.60,0.58,0.56,0.52,0.46,0.50,0.46,0.45,
   0.48,0.52,0.55,0.58,0.60,0.62,0.61,0.63,0.60,0.58,
   0.56,0.55,0.57,0.54,0.53,0.55,0.54,0.52,0.53,0.51,
   0.50,0.51,0.49,0.48,0.47,0.48,0.46,0.45,0.46,0.44,
   0.43,0.42,0.41,0.40,0.41,0.42,0.41,0.41,0.41,0.41],
  [0.95,0.90,0.86,0.84,0.82,0.80,0.78,0.76,0.74,0.73,
   0.71,0.69,0.66,0.63,0.60,0.58,0.55,0.53,0.50,0.48,
   0.45,0.43,0.43,0.42,0.43,0.46,0.52,0.55,0.53,0.55,
   0.56,0.54,0.55,0.53,0.54,0.52,0.53,0.51,0.50,0.51,
   0.49,0.48,0.49,0.47,0.46,0.47,0.45,0.44,0.43,0.42,
   0.43,0.41,0.40,0.38,0.37,0.36,0.35,0.38,0.37,0.37],
  [0.77,0.80,0.82,0.83,0.82,0.84,0.83,0.80,0.78,0.76,
   0.74,0.72,0.70,0.68,0.66,0.64,0.62,0.60,0.57,0.55,
   0.53,0.50,0.48,0.46,0.43,0.41,0.40,0.42,0.47,0.50,
   0.52,0.51,0.53,0.52,0.54,0.53,0.52,0.53,0.51,0.52,
   0.50,0.49,0.47,0.48,0.46,0.45,0.44,0.45,0.43,0.42,
   0.43,0.41,0.40,0.39,0.38,0.37,0.37,0.36,0.35,0.34],
  [0.90,0.88,0.86,0.87,0.85,0.83,0.84,0.82,0.80,0.81,
   0.79,0.77,0.78,0.76,0.74,0.72,0.73,0.71,0.69,0.70,
   0.68,0.66,0.67,0.65,0.66,0.64,0.65,0.63,0.64,0.62,
   0.63,0.61,0.62,0.60,0.61,0.60,0.59,0.58,0.59,0.57,
   0.58,0.56,0.57,0.55,0.56,0.55,0.53,0.61,0.60,0.59,
   0.60,0.59,0.58,0.58,0.59,0.58,0.58,0.60,0.58,0.57],
  [0.92,0.88,0.85,0.83,0.82,0.80,0.78,0.76,0.74,0.72,
   0.70,0.68,0.64,0.62,0.64,0.66,0.65,0.67,0.66,0.68,
   0.70,0.69,0.71,0.70,0.72,0.71,0.73,0.72,0.70,0.71,
   0.69,0.70,0.68,0.69,0.67,0.68,0.66,0.67,0.65,0.66,
   0.64,0.65,0.63,0.64,0.62,0.63,0.61,0.62,0.60,0.61,
   0.62,0.60,0.61,0.59,0.60,0.58,0.59,0.60,0.58,0.59]
];
const lowColors = ['#BBD39E','#D69C9A','#98ADD5','#AB9EC6','#86C2D6'];

function construirGrafico() {
    const fontFamily = 'Lato, "Open Sans", sans-serif';
    let datasets = [];

    // Chart.js paints dataset 0 last, so the pale pack goes first to sit on top
    lowSeries.forEach((serie, i) => datasets.push(linha(serie, lowColors[i])));
    bandSeries.forEach((serie, i) => datasets.push(linha(serie, bandColors[i])));
    stepSeries.forEach((serie, i) => datasets.push(linha(serie, stepColors[i])));
    peakSeries.forEach((serie, i) => datasets.push(linha(serie, peakColors[i])));

    var ctx = document.getElementById('goldChart').getContext('2d');

    var myChart = new Chart(ctx, {
        type: 'line',
        data: {
            labels: months.map(String),
            datasets: datasets
        },
        options: {
            responsive: false,
            animation: false,
            events: [],
            layout: { padding: { left: 6, right: 7, top: 19, bottom: 0 } },
            plugins: {
                legend: { display: false },
                tooltip: { enabled: false }
            },
            elements: {
                point: { radius: 0 },
                line: { borderWidth: 6, tension: 0 }
            },
            scales: {
                x: {
                    offset: true,
                    grid: { offset: true, drawOnChartArea: false, color: '#868686', lineWidth: 2, tickLength: 8 },
                    border: { color: '#868686', width: 2 },
                    ticks: {
                        autoSkip: false,
                        maxRotation: 0,
                        padding: 12,
                        color: '#000',
                        font: { family: fontFamily, size: 23 },
                        callback: function(value) {
                            const label = this.getLabelForValue(value);
                            return tickLabels.includes(label) ? label : '';
                        }
                    },
                    title: {
                        display: true,
                        text: '1041 Historical 5 year Gold Investment Horizons (Adjusted for Inflation)',
                        color: '#000',
                        font: { family: fontFamily, size: 25, weight: 'bold' },
                        padding: { top: 2, bottom: 4 }
                    },
                    afterFit: function(scale) { scale.height = 91; }
                },
                y: {
                    min: 0,
                    max: 4.5,
                    afterBuildTicks: function(scale) {
                        scale.ticks = yTicks.map(v => ({ value: v }));
                    },
                    grid: { color: '#868686', lineWidth: 2, tickLength: 8 },
                    border: { color: '#868686', width: 2 },
                    ticks: {
                        padding: 15,
                        color: '#000',
                        font: { family: fontFamily, size: 23 },
                        callback: v => String(v)
                    },
                    title: {
                        display: true,
                        // trailing blanks push the rotated text a little below the middle, as in the original
                        text: '$1 invested for 5 years        ',
                        color: '#000',
                        font: { family: fontFamily, size: 27, weight: 'bold' },
                        padding: { top: 0, bottom: 0 }
                    },
                    afterFit: function(scale) { scale.width = 98; }
                }
            }
        }
    });
}

function linha(serie, cor) {
    return {
        data: serie,
        borderColor: cor,
        backgroundColor: cor,
        borderWidth: 6,
        pointRadius: 0,
        fill: false
    };
}

construirGrafico();
</script>
</body>
</html>
